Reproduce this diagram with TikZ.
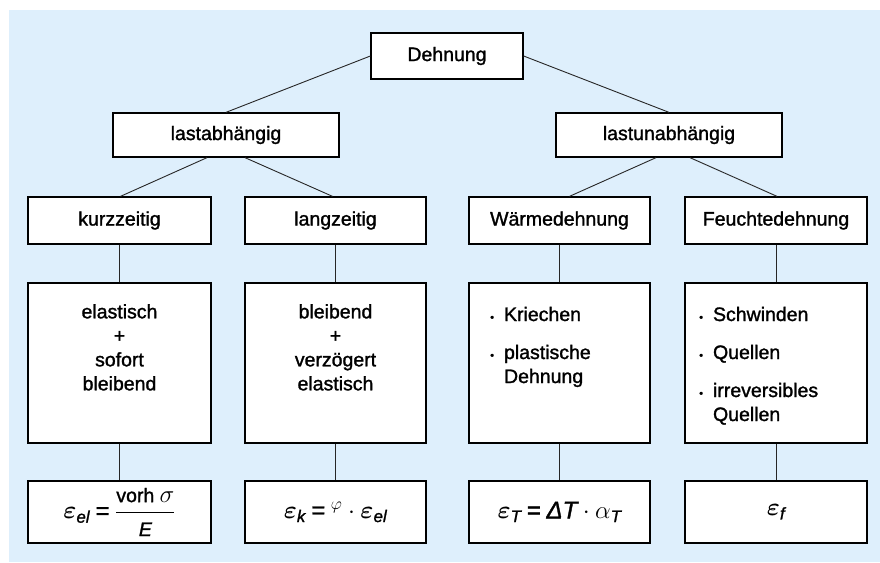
\documentclass[tikz,border=0pt]{standalone}
\usepackage{amsmath}
\usepackage{fontspec}
\setmainfont{Liberation Sans}
\newfontfamily\boxfont{Liberation Sans}[FakeBold=1.4]
\newcommand\sis[1]{\text{\boxfont\itshape #1}}
\definecolor{bgblue}{RGB}{222,239,252}
\begin{document}
\begin{tikzpicture}[x=1pt,y=-1pt,
  box/.style={draw=black, line width=1.3pt, fill=white, inner sep=0pt, align=center,
    font=\boxfont\fontsize{19.5}{24}\selectfont},
  txt/.style={inner sep=0pt, align=center, font=\boxfont\fontsize{19.5}{24}\selectfont},
  fbox/.style={box, font=\boxfont\fontsize{24}{28}\selectfont},
  conn/.style={draw=black!85, line width=0.9pt}]
\fill[bgblue] (9,10) rectangle (880,562);
\useasboundingbox (0,0) rectangle (880,562);
% level 1-2
\node[box, minimum width=152pt, minimum height=46pt] (deh) at (447,56) {Dehnung};
\node[box, minimum width=226pt, minimum height=44pt] (lab) at (226,135) {lastabhängig};
\node[box, minimum width=226pt, minimum height=44pt] (lun) at (669,135) {lastunabhängig};
% level 3
\node[box, minimum width=183pt, minimum height=47pt] (kurz) at (119.5,220.5) {kurzzeitig};
\node[box, minimum width=181pt, minimum height=47pt] (lang) at (335.5,220.5) {langzeitig};
\node[box, minimum width=181pt, minimum height=47pt] (waerme) at (559.5,220.5) {Wärmedehnung};
\node[box, minimum width=182pt, minimum height=47pt] (feucht) at (776,220.5) {Feuchtedehnung};
% level 4
\node[box, minimum width=183pt, minimum height=160pt] (kurzB) at (119.5,363) {};
\node[box, minimum width=181pt, minimum height=160pt] (langB) at (335.5,363) {};
\node[box, minimum width=181pt, minimum height=160pt] (waermeB) at (559.5,363) {};
\node[box, minimum width=182pt, minimum height=160pt] (feuchtB) at (776,363) {};
\node[txt, anchor=north] (kurzT) at (119.5,304) {elastisch\\+\\sofort\\bleibend};
\node[txt, anchor=north] (langT) at (335.5,304) {bleibend\\+\\verzögert\\elastisch};
\node[txt, anchor=north west] (waermeT) at (490,304)
  {\begin{tabular}{@{}l@{\hspace{10pt}}l@{}}
   {\fontsize{11}{11}\selectfont\textbullet} & Kriechen\\[14pt]
   {\fontsize{11}{11}\selectfont\textbullet} & plastische\\
   & Dehnung
   \end{tabular}};
\node[txt, anchor=north west] (feuchtT) at (699,304)
  {\begin{tabular}{@{}l@{\hspace{10pt}}l@{}}
   {\fontsize{11}{11}\selectfont\textbullet} & Schwinden\\[14pt]
   {\fontsize{11}{11}\selectfont\textbullet} & Quellen\\[14pt]
   {\fontsize{11}{11}\selectfont\textbullet} & irreversibles\\
   & Quellen
   \end{tabular}};
% level 5
\node[fbox, minimum width=183pt, minimum height=62pt] (kurzF) at (119.5,512)
  {$\boldsymbol{\varepsilon}_{\sis{el}} \mathbin{\text{\boxfont =}} \dfrac{\text{\boxfont\fontsize{19.5}{24}\selectfont vorh }\sigma}{\sis{\fontsize{19.5}{24}\selectfont E}}$};
\node[fbox, minimum width=181pt, minimum height=62pt] (langF) at (335.5,512)
  {$\boldsymbol{\varepsilon}_{\sis{k}} \mathbin{\text{\boxfont =}} {}^{\varphi}\cdot \boldsymbol{\varepsilon}_{\sis{el}}$};
\node[fbox, minimum width=181pt, minimum height=62pt] (waermeF) at (559.5,512)
  {$\boldsymbol{\varepsilon}_{\sis{T}} \mathbin{\text{\boxfont =}} \sis{ΔT}\cdot \alpha_{\sis{T}}$};
\node[fbox, minimum width=182pt, minimum height=62pt] (feuchtF) at (776,512)
  {$\boldsymbol{\varepsilon}_{\sis{f}}$};
% connectors
\draw[conn] (deh.west) -- (lab.north);
\draw[conn] (deh.east) -- (lun.north);
\draw[conn] ([xshift=-19pt]lab.south) -- ([xshift=1pt]kurz.north);
\draw[conn] ([xshift=19pt]lab.south) -- ([xshift=-3pt]lang.north);
\draw[conn] ([xshift=-13pt]lun.south) -- ([xshift=10pt]waerme.north);
\draw[conn] ([xshift=21pt]lun.south) -- ([xshift=1pt]feucht.north);
\foreach \a in {kurz,lang,waerme,feucht}{
  \draw[conn] (\a.south) -- (\a B.north);
  \draw[conn] (\a B.south) -- (\a F.north);
}
\end{tikzpicture}
\end{document}
